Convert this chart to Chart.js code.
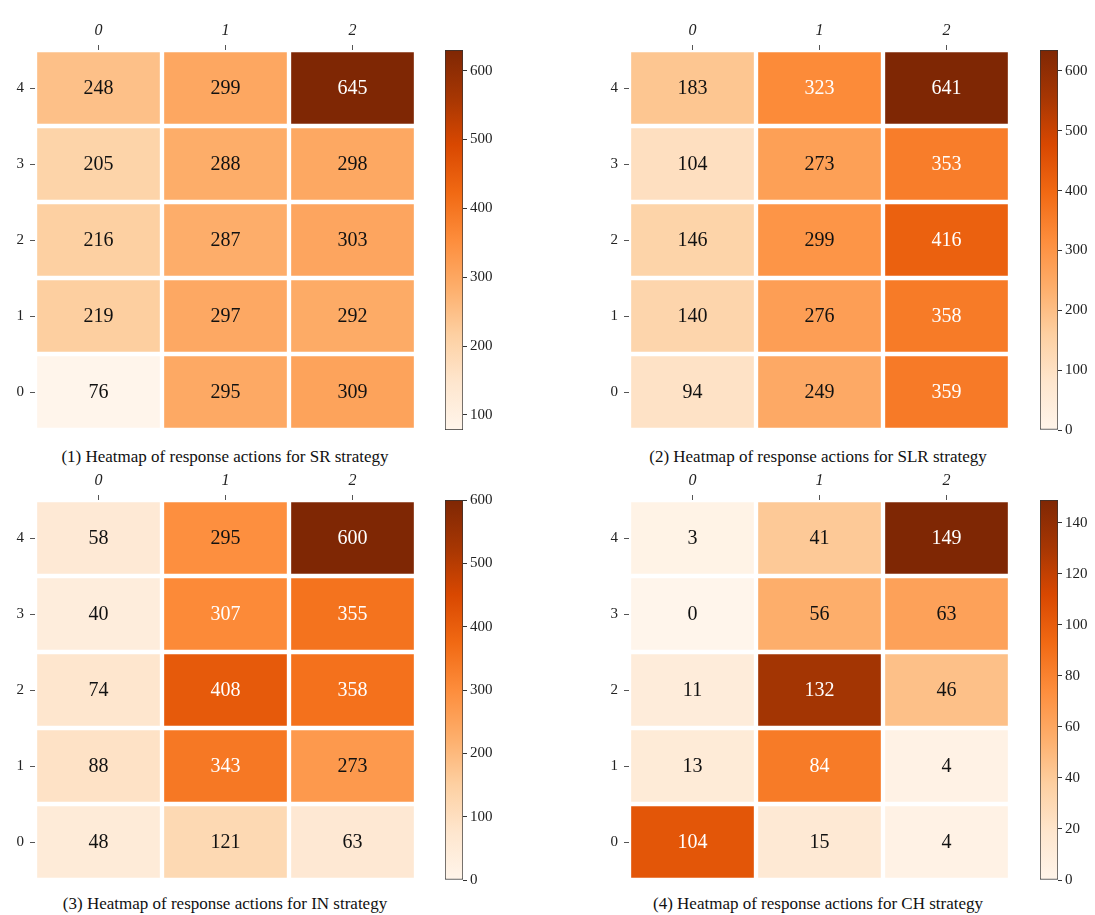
<!DOCTYPE html>
<html>
<head>
<meta charset="utf-8">
<script src="https://cdn.jsdelivr.net/npm/chart.js@4.4.1/dist/chart.umd.min.js"></script>
<style>
  body { margin: 0; background: #fff; width: 1095px; height: 915px; position: relative; overflow: hidden; font-family: "Liberation Serif", serif; }
  canvas { position: absolute; }
  .titulo { position: absolute; width: 500px; text-align: center; font-size: 17px; color: #111; }
</style>
</head>
<body>
<script>
// etiquetas de ejes
const colLabels = ["0", "1", "2"];
const rowLabels = ["0", "1", "2", "3", "4"];

// valores por fila (fila 0 abajo, fila 4 arriba)
const valoresSR = [[76, 295, 309], [219, 297, 292], [216, 287, 303], [205, 288, 298], [248, 299, 645]];
const valoresSLR = [[94, 249, 359], [140, 276, 358], [146, 299, 416], [104, 273, 353], [183, 323, 641]];
const valoresIN = [[48, 121, 63], [88, 343, 273], [74, 408, 358], [40, 307, 355], [58, 295, 600]];
const valoresCH = [[104, 15, 4], [13, 84, 4], [11, 132, 46], [0, 56, 63], [3, 41, 149]];

const rangoSR = [78, 630];
const rangoSLR = [0, 635];
const rangoIN = [0, 600];
const rangoCH = [0, 149];
const ticksSR = [100, 200, 300, 400, 500, 600];
const ticksSLR = [0, 100, 200, 300, 400, 500, 600];
const ticksIN = [0, 100, 200, 300, 400, 500, 600];
const ticksCH = [0, 20, 40, 60, 80, 100, 120, 140];

const titulos = [
  "(1) Heatmap of response actions for SR strategy",
  "(2) Heatmap of response actions for SLR strategy",
  "(3) Heatmap of response actions for IN strategy",
  "(4) Heatmap of response actions for CH strategy"
];

// mapa de color "Oranges"
const oranges = ["#fff5eb", "#fee6ce", "#fdd0a2", "#fdae6b", "#fd8d3c", "#f16913", "#d94801", "#a63603", "#7f2704"];

function hexRgb(h) {
  return [parseInt(h.slice(1, 3), 16), parseInt(h.slice(3, 5), 16), parseInt(h.slice(5, 7), 16)];
}

function colorRgb(t) {
  t = Math.max(0, Math.min(1, t));
  const pos = t * (oranges.length - 1);
  const i = Math.min(Math.floor(pos), oranges.length - 2);
  const f = pos - i;
  const a = hexRgb(oranges[i]);
  const b = hexRgb(oranges[i + 1]);
  return a.map((c, k) => Math.round(c + (b[k] - c) * f));
}

function colorCss(t) {
  const c = colorRgb(t);
  return `rgb(${c[0]},${c[1]},${c[2]})`;
}

function colorTexto(t) {
  const lin = colorRgb(t).map(c => {
    c = c / 255;
    return c <= 0.03928 ? c / 12.92 : Math.pow((c + 0.055) / 1.055, 2.4);
  });
  const lum = 0.2126 * lin[0] + 0.7152 * lin[1] + 0.0722 * lin[2];
  return lum > 0.408 ? "#111" : "#fff";
}

const fuente = "Liberation Serif";

const pluginValores = {
  id: "valores",
  afterDatasetsDraw(chart) {
    const ctx = chart.ctx;
    const rango = chart.options.plugins.valores.rango;
    ctx.save();
    ctx.font = `20px "${fuente}"`;
    ctx.textAlign = "center";
    ctx.textBaseline = "middle";
    chart.data.datasets.forEach((ds, i) => {
      chart.getDatasetMeta(i).data.forEach((bar, j) => {
        const v = ds.valores[j];
        ctx.fillStyle = colorTexto((v - rango[0]) / (rango[1] - rango[0]));
        ctx.fillText(String(v), bar.x, (bar.y + bar.base) / 2 + 1);
      });
    });
    ctx.restore();
  }
};

function sinPadding(s) {
  s.paddingTop = 0;
  s.paddingBottom = 0;
  s.paddingLeft = 0;
  s.paddingRight = 0;
}

function nuevoCanvas(x, y, w, h) {
  const c = document.createElement("canvas");
  c.width = w;
  c.height = h;
  c.style.left = x + "px";
  c.style.top = y + "px";
  document.body.appendChild(c);
  return c;
}

function crearHeatmap(canvas, valores, rango) {
  const datasets = rowLabels.map((fila, r) => ({
    label: fila,
    data: colLabels.map(() => [r, r + 1]),
    valores: valores[r],
    backgroundColor: valores[r].map(v => colorCss((v - rango[0]) / (rango[1] - rango[0]))),
    borderColor: "#fff",
    borderWidth: 2.5,
    borderSkipped: false,
    barPercentage: 1,
    categoryPercentage: 1
  }));

  return new Chart(canvas, {
    type: "bar",
    data: { labels: colLabels, datasets },
    plugins: [pluginValores],
    options: {
      responsive: false,
      animation: false,
      layout: { padding: 0 },
      plugins: {
        legend: { display: false },
        tooltip: { enabled: false },
        valores: { rango }
      },
      scales: {
        x: {
          position: "top",
          stacked: true,
          grid: { drawOnChartArea: false, offset: false, tickLength: 5, color: "#555" },
          border: { display: false },
          ticks: { color: "#222", padding: 5, font: { family: fuente, size: 16, style: "italic" } },
          afterFit: s => { s.height = 30; sinPadding(s); }
        },
        y: {
          min: 0,
          max: rowLabels.length,
          stacked: false,
          afterBuildTicks: s => { s.ticks = rowLabels.map((l, i) => ({ value: i + 0.5 })); },
          grid: { drawOnChartArea: false, tickLength: 5, color: "#555" },
          border: { display: false },
          ticks: { color: "#222", padding: 6, font: { family: fuente, size: 15 }, callback: (v, i) => rowLabels[i] },
          afterFit: s => { s.width = 35; sinPadding(s); }
        }
      }
    }
  });
}

function crearBarraColor(canvas, rango, ticks) {
  return new Chart(canvas, {
    type: "bar",
    data: {
      labels: [""],
      datasets: [{
        data: [[rango[0], rango[1]]],
        backgroundColor: c => {
          const ch = c.chart;
          if (!ch.chartArea) return null;
          const y = ch.scales.y;
          const g = ch.ctx.createLinearGradient(0, y.getPixelForValue(rango[0]), 0, y.getPixelForValue(rango[1]));
          oranges.forEach((col, k) => g.addColorStop(k / (oranges.length - 1), col));
          return g;
        },
        borderColor: "#333",
        borderWidth: 1,
        borderSkipped: false,
        barPercentage: 1,
        categoryPercentage: 1
      }]
    },
    options: {
      responsive: false,
      animation: false,
      layout: { padding: { top: 8, bottom: 8, left: 0, right: 0 } },
      plugins: { legend: { display: false }, tooltip: { enabled: false } },
      scales: {
        x: { display: false },
        y: {
          position: "right",
          min: rango[0],
          max: rango[1],
          afterBuildTicks: s => { s.ticks = ticks.map(v => ({ value: v })); },
          grid: { drawOnChartArea: false, tickLength: 4, color: "#333" },
          border: { display: false },
          ticks: { color: "#222", padding: 3, font: { family: fuente, size: 15 } },
          afterFit: s => { s.width = 45; sinPadding(s); }
        }
      }
    }
  });
}

const paneles = [
  { valores: valoresSR, rango: rangoSR, ticks: ticksSR, hx: 0, cx: 445, y: 50, tx: 225, ty: 447 },
  { valores: valoresSLR, rango: rangoSLR, ticks: ticksSLR, hx: 594, cx: 1040, y: 50, tx: 818, ty: 447 },
  { valores: valoresIN, rango: rangoIN, ticks: ticksIN, hx: 0, cx: 445, y: 500, tx: 225, ty: 894 },
  { valores: valoresCH, rango: rangoCH, ticks: ticksCH, hx: 594, cx: 1040, y: 500, tx: 818, ty: 894 }
];

paneles.forEach((p, i) => {
  crearHeatmap(nuevoCanvas(p.hx, p.y - 30, 416, 410), p.valores, p.rango);
  crearBarraColor(nuevoCanvas(p.cx, p.y - 8, 18 + 45, 396), p.rango, p.ticks);
  const t = document.createElement("div");
  t.className = "titulo";
  t.textContent = titulos[i];
  t.style.left = (p.tx - 250) + "px";
  t.style.top = p.ty + "px";
  document.body.appendChild(t);
});
</script>
</body>
</html>
